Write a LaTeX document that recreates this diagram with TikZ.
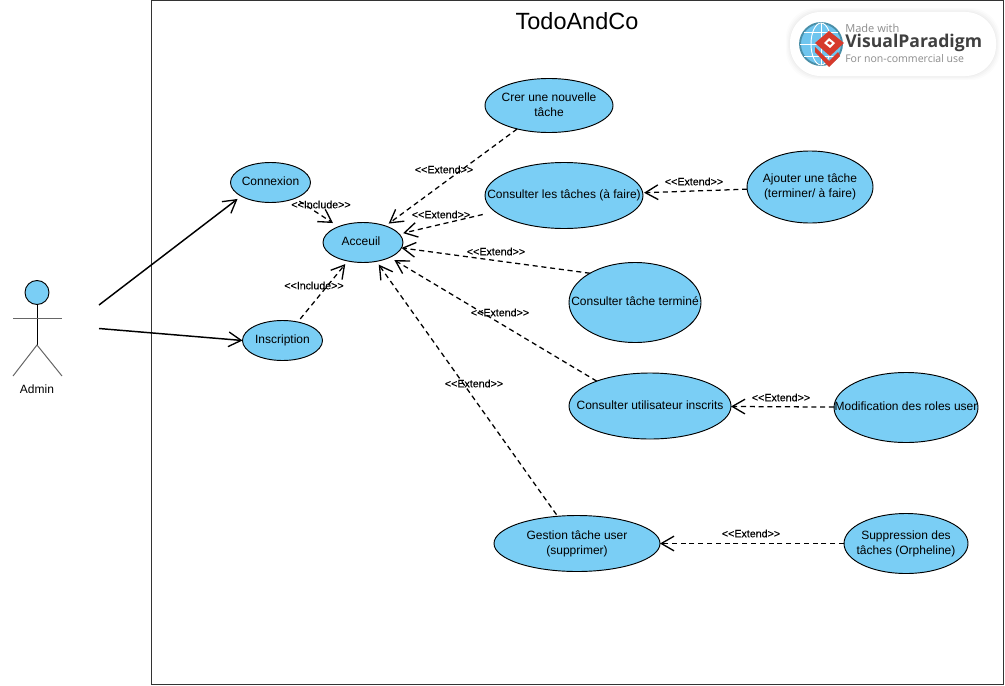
\documentclass[tikz,border=0pt]{standalone}
\usepackage{fontspec}
\setmainfont{Liberation Sans}
\newfontfamily\logofont{Open Sans}
\newfontfamily\relfont[FakeBold=0.25]{Liberation Sans}
\usetikzlibrary{shapes.geometric,arrows.meta,calc}
\definecolor{ucfill}{HTML}{7ACEF5}
\definecolor{logoblue}{HTML}{6FC5EE}
\definecolor{logoteal}{HTML}{4A8FA8}
\definecolor{logored}{HTML}{D63A2C}
\definecolor{logogray}{HTML}{8C8C8C}
\definecolor{logodark}{HTML}{404040}
\newcommand{\uctext}[2][0.75pt]{\makebox[0pt][c]{\raisebox{-#1}{\begin{tabular}{@{}c@{}}#2\end{tabular}}}}
\tikzset{
  uc/.style 2 args={ellipse,draw=black,line width=0.7pt,fill=ucfill,inner sep=0pt,outer sep=0pt,
    minimum width=#1*0.75pt,minimum height=#2*0.75pt,font=\fontsize{9}{11.25}\selectfont},
  barb/.style={-{Straight Barb[length=9.5pt,width=11pt,line width=1pt]},line width=0.95pt},
  dep/.style={barb,dash pattern=on 3.8pt off 2.8pt,shorten <=#1},
  dep/.default=4pt,
  rel/.style={font=\relfont\fontsize{8}{10}\selectfont,inner sep=0pt},
  assoc/.style={barb,line width=1.1pt},
  limb/.style={draw=black!60,line width=0.75pt},
}
\begin{document}
\begin{tikzpicture}[x=0.75pt,y=-0.75pt]
\useasboundingbox (0,0) rectangle (1005,685);
\draw[line width=0.7pt,draw=black!80] (151,0.7) rectangle (1003.8,684);
\node[font=\fontsize{17.6}{20}\selectfont,inner sep=0pt] (title) at (577,21) {TodoAndCo};

% logo
\foreach \g/\o in {7/0.012,5/0.015,3/0.018,1/0.02}{
  \fill[black,opacity=\o,rounded corners=23pt] ($(790,12)+(-\g*0.6,-\g*0.6)$) rectangle ($(996,76)+(\g*0.6,\g*0.6)$);
}
\fill[white,rounded corners=23pt] (790,12) rectangle (996,76);
\fill[logoblue,draw=logoteal,line width=1.4pt] (821,44) circle[radius=21];
\draw[white,line width=0.7pt] (821,23) -- (821,65) (800,44) -- (842,44)
  (804,32) -- (838,32) (804,56) -- (838,56);
\draw[white,line width=0.7pt] (821,44) ellipse[x radius=10,y radius=21];
\fill[logored] (829,31) -- (844,43) -- (830,56) -- (815,43) -- cycle;
\fill[logored] (815,47) -- (829,61) -- (838,52) -- (840,56) -- (829,67) -- (815,52) -- cycle;
\fill[white] (829,38) -- (835,43) -- (830,48) -- (824,43) -- cycle;
\fill[logored] (829,41) -- (832,43) -- (830,45) -- (827,43) -- cycle;
\node[anchor=west,inner sep=0pt,text=logogray,font=\logofont\fontsize{8.3}{10}\selectfont] (logoa) at (845,28) {Made with};
\node[anchor=west,inner sep=0pt,text=logodark,font=\logofont\bfseries\fontsize{13.2}{15}\selectfont] (logob) at (845,43) {VisualParadigm};
\node[anchor=west,inner sep=0pt,text=logogray,font=\logofont\fontsize{7.9}{10}\selectfont] (logoc) at (845,59) {For non-commercial use};

% actor
\node[circle,draw=black,line width=0.7pt,fill=ucfill,inner sep=0pt,minimum size=24*0.75pt] (head) at (37,292.5) {};
\coordinate (hip) at (37,345);
\coordinate (armL) at (13,318.5);
\coordinate (armR) at (62,318.5);
\coordinate (footL) at (13,376);
\coordinate (footR) at (62,376);
\draw[line width=0.7pt] (head.south) -- (hip);
\draw[limb] (armL) -- (armR);
\draw[limb] (footL) -- (hip) -- (footR);
\node[font=\fontsize{9}{11}\selectfont,inner sep=0pt] (admin) at (37,389) {Admin};
\coordinate (actorA) at (99,305);
\coordinate (actorB) at (99,328.5);

% use cases
\node[uc={80}{40}]  (conn)  at (270.5,182.5) {\uctext{Connexion}};
\node[uc={80}{40}]  (acc)   at (363,242.5) {\hspace*{-3pt}\uctext{Acceuil}};
\node[uc={80}{40}]  (insc)  at (282.5,340.5) {\uctext{Inscription}};
\node[uc={128}{54}] (crer)  at (549,105.5) {\uctext[1.1pt]{Crer une nouvelle\\tâche}};
\node[uc={158}{66}] (cons)  at (564,195.5) {\uctext{Consulter les tâches (à faire)}};
\node[uc={126}{72}] (ajout) at (810,187) {\uctext{Ajouter une tâche\\(terminer/ à faire)}};
\node[uc={132}{80}] (term)  at (635,302.5) {\uctext{Consulter tâche terminé}};
\node[uc={162}{66}] (util)  at (650,406) {\uctext{Consulter utilisateur inscrits}};
\node[uc={144}{70}] (modif) at (906,407.5) {\uctext{Modification des roles user}};
\node[uc={166}{56}] (gest)  at (577,543.5) {\uctext[1.1pt]{Gestion tâche user\\(supprimer)}};
\node[uc={124}{60}] (suppr) at (906,543.5) {\uctext{Suppression des\\tâches (Orpheline)}};

% connectors
\draw[assoc,shorten >=3.5pt] (actorA) -- (conn.205);
\draw[assoc] (actorB) -- (insc.west);
\draw[dep=4pt,shorten >=5pt] (conn) -- (acc);
\draw[dep=3pt,shorten >=3pt] (insc) -- (acc);
\draw[dep=0pt,shorten >=3pt] (crer) -- (acc);
\draw[dep=9.5pt,shorten >=3pt] (cons) -- (acc);
\draw[dep=0pt,shorten >=0pt] (term.147) -- (acc.-8);
\draw[dep=0pt,shorten >=4pt] (util.155) -- (acc.-29);
\draw[dep=1.5pt,shorten >=3pt] (gest) -- (acc);
\draw[dep=0pt,shorten >=1pt] (ajout) -- (cons);
\draw[dep=0pt,shorten >=0pt] (modif) -- (util);
\draw[dep=0pt,shorten >=0pt] (suppr) -- (gest);

% labels
\node[rel] (l1)  at (321,204.5) {<{}<Include>{}>};
\node[rel] (l2)  at (314,285.5) {<{}<Include>{}>};
\node[rel] (l3)  at (444,169.5) {<{}<Extend>{}>};
\node[rel] (l4)  at (441,214.5) {<{}<Extend>{}>};
\node[rel] (l5)  at (496,251.5) {<{}<Extend>{}>};
\node[rel] (l6)  at (500,312.5) {<{}<Extend>{}>};
\node[rel] (l7)  at (474,383.5) {<{}<Extend>{}>};
\node[rel] (l8)  at (694,181.5) {<{}<Extend>{}>};
\node[rel] (l9)  at (781,397.5) {<{}<Extend>{}>};
\node[rel] (l10) at (751,533.5) {<{}<Extend>{}>};
\end{tikzpicture}
\end{document}
